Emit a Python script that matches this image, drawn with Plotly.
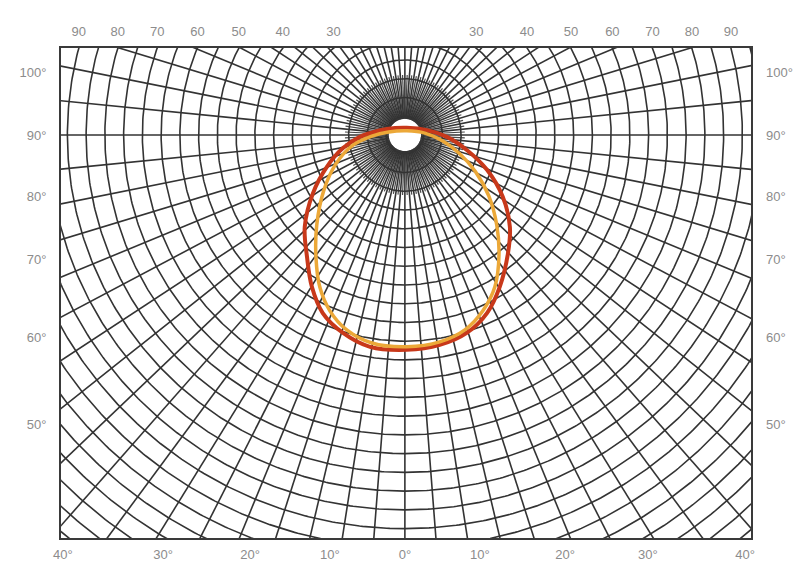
import numpy as np
import plotly.graph_objects as go

# ---------------- data ----------------
# grid of the rotated angular system (degrees from the pole, C-plane angles)
parallel_angles = list(range(5, 150, 5))
meridian_angles = list(range(0, 360, 5))
fine_meridian_angles = [2.5 + 5 * a for a in range(72)]

# tick labels
bottom_labels = ["40°", "30°", "20°", "10°", "0°", "10°", "20°", "30°", "40°"]
side_labels = ["100°", "90°", "80°", "70°", "60°", "50°"]
top_label_angles = [90, 80, 70, 60, 50, 40, 30]

# isocandela contour (outer red line), projection degrees relative to pole
red_x = [-9.3, -12.0, -16.5, -20.8, -24.5, -26.7, -26.1, -24.8, -21.9, -16.5, -9.3, 0.5,
         9.3, 16.5, 21.9, 25.3, 27.5, 28.0, 26.1, 21.9, 16.5, 11.2, 5.9, 0.5, -4.8, -9.3]
red_y = [0.5, -0.5, -3.5, -8.5, -15.5, -24.5, -32.5, -40.5, -47.5, -52.8, -56.5, -57.3,
         -56.0, -52.8, -47.5, -40.5, -31.5, -24.5, -16.5, -9.3, -4.0, -0.5, 1.3, 1.9, 1.6, 0.5]
# inner orange line
orange_x = [-8.8, -14.1, -18.4, -21.6, -23.5, -23.7, -22.7, -20.0, -15.5, -8.8, 0.5, 9.3,
            16.0, 20.8, 24.0, 25.1, 24.5, 22.4, 18.7, 14.4, 10.1, 5.3, 0.5, -4.3, -8.8]
orange_y = [-0.3, -2.9, -7.7, -14.7, -24.0, -32.8, -40.5, -46.9, -52.0, -55.5, -56.5, -55.2,
            -52.0, -46.9, -40.5, -32.0, -24.0, -16.3, -9.6, -4.8, -1.6, 0.5, 1.1, 0.8, -0.3]

# ---------------- layout constants ----------------
# the page body adds an 8 px margin, so the figure is 8 px smaller than the window
W, H = 795, 556
X_RANGE = [-91.7, 92.3]
Y_RANGE = [-107.5, 23.2]
K = 0.88           # azimuth compression of the projection
POLE_R = 4.3       # white disc around the pole
bottom_tick_pos = [-91.2, -64.5, -41.3, -20.0, 0.0, 20.0, 42.7, 64.8, 90.7]
side_tick_pos = [16.8, 0.0, -16.5, -33.3, -54.1, -77.3]


def proj(theta, c_deg):
    c = np.radians(c_deg)
    psi = np.arctan2(K * np.sin(c), np.cos(c))
    return theta * np.sin(psi), -theta * np.cos(psi)


gx, gy = [], []
for th in parallel_angles:
    t = np.linspace(0, 360, 721)
    x, y = proj(th, t)
    gx += list(x) + [None]
    gy += list(y) + [None]
for c in meridian_angles:
    th = np.linspace(POLE_R, 150, 120)
    x, y = proj(th, c)
    gx += list(x) + [None]
    gy += list(y) + [None]

fx, fy = [], []
for c in fine_meridian_angles:
    th = np.array([POLE_R, 16.0])
    x, y = proj(th, c)
    fx += list(x) + [None]
    fy += list(y) + [None]

fig = go.Figure()
fig.add_trace(go.Scatter(x=fx, y=fy, mode="lines", line=dict(color="#4a4a4a", width=1.2),
                         hoverinfo="skip", showlegend=False))
fig.add_trace(go.Scatter(x=gx, y=gy, mode="lines", line=dict(color="#333333", width=1.6),
                         hoverinfo="skip", showlegend=False))
fig.add_trace(go.Scatter(x=red_x, y=red_y, mode="lines", line=dict(color="#c8381a", width=4, shape="spline"),
                         hoverinfo="skip", showlegend=False))
fig.add_trace(go.Scatter(x=orange_x, y=orange_y, mode="lines", line=dict(color="#eca838", width=3.5, shape="spline"),
                         hoverinfo="skip", showlegend=False))
# helper trace for the secondary (top/right) axes
fig.add_trace(go.Scatter(x=[0], y=[0], xaxis="x2", yaxis="y2", mode="markers",
                         marker=dict(opacity=0), hoverinfo="skip", showlegend=False))

ytop = Y_RANGE[1]
top_pos, top_txt = [], []
for a in top_label_angles:
    top_pos.append(-np.sqrt(a ** 2 - ytop ** 2)); top_txt.append(str(a))
for a in reversed(top_label_angles):
    top_pos.append(np.sqrt(a ** 2 - ytop ** 2)); top_txt.append(str(a))

tf = dict(family="Liberation Sans, Arial, sans-serif", size=13, color="#8c8c8c")
common = dict(showgrid=False, zeroline=False, ticks="", fixedrange=True, automargin=False)

fig.update_layout(
    width=W, height=H, autosize=False,
    margin=dict(l=53, r=52, t=40, b=26, autoexpand=False),
    paper_bgcolor="white", plot_bgcolor="white",
    xaxis=dict(range=X_RANGE, tickvals=bottom_tick_pos, ticktext=bottom_labels, tickfont=tf,
               showline=True, mirror=True, linecolor="#3a3a3a", linewidth=2, ticklabelstandoff=3, **common),
    yaxis=dict(range=Y_RANGE, tickvals=side_tick_pos, ticktext=side_labels, tickfont=tf,
               showline=True, mirror=True, linecolor="#3a3a3a", linewidth=2, ticklabelstandoff=10, **common),
    xaxis2=dict(range=X_RANGE, overlaying="x", side="top", tickvals=top_pos, ticktext=top_txt,
                tickfont=tf, showline=False, ticklabelstandoff=8, **common),
    yaxis2=dict(range=Y_RANGE, overlaying="y", side="right", tickvals=side_tick_pos, ticktext=side_labels,
                tickfont=tf, showline=False, ticklabelstandoff=14, **common),
)

fig.write_html("out.html")
